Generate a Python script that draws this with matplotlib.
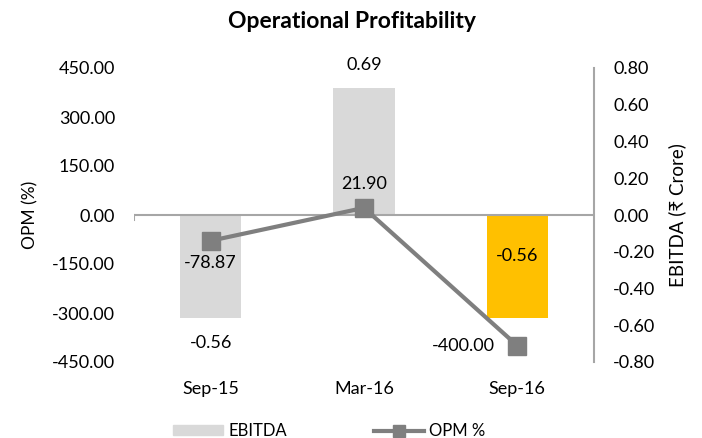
import matplotlib.pyplot as plt
import numpy as np
from matplotlib.patches import Patch
from matplotlib.lines import Line2D

plt.rcParams['font.family'] = ['Lato', 'DejaVu Sans']

periods = ['Sep-15', 'Mar-16', 'Sep-16']
ebitda = [-0.56, 0.69, -0.56]
opm = [-78.87, 21.90, -400.00]
bar_colors = ['#D9D9D9', '#D9D9D9', '#FFC000']

fig = plt.figure(figsize=(7.02, 4.38), dpi=100)
ax = fig.add_axes([134/702, 76/438, 460/702, 294/438])
ax2 = ax.twinx()

x = np.arange(len(periods))

# bars on the right (EBITDA) axis, line on the left (OPM) axis
ax2.bar(x, ebitda, width=0.4, color=bar_colors, zorder=1)
ax.set_zorder(ax2.get_zorder() + 1)
ax.patch.set_visible(False)
ax.plot(x, opm, color='#7F7F7F', lw=3, marker='s', markersize=13, zorder=3)

left_ticks = np.arange(-450, 451, 150)
right_ticks = np.round(np.arange(-0.8, 0.81, 0.2), 2)
ax.set_ylim(-450, 450)
ax.set_yticks(left_ticks)
ax.set_yticklabels(['{:.2f}'.format(v) for v in left_ticks])
ax2.set_ylim(-0.8, 0.8)
ax2.set_yticks(right_ticks)
ax2.set_yticklabels(['{:.2f}'.format(v + 0.0) for v in right_ticks])
ax.set_xlim(-0.5, 2.5)
ax.set_xticks(x)
ax.set_xticklabels(periods)

for a in (ax, ax2):
    for s in ['top', 'left', 'bottom', 'right']:
        a.spines[s].set_visible(False)
    a.tick_params(length=0, labelsize=13, colors='#000000')
ax.tick_params(axis='y', pad=13.7)
ax2.tick_params(axis='y', pad=13.7)
ax.tick_params(axis='x', pad=14)
ax2.spines['right'].set_visible(True)
ax2.spines['right'].set_color('#A6A6A6')
ax2.spines['right'].set_linewidth(1.5)

ax.axhline(0, color='#A6A6A6', lw=1.5, zorder=2)
ax.axvline(-0.5, ymin=0.483, ymax=0.5, color='#A6A6A6', lw=1.5)

ax.set_ylabel('OPM (%)', fontsize=12.5, labelpad=10)
ax2.set_ylabel('EBITDA (₹ Crore)', fontsize=13.5, labelpad=9)
fig.text(352/702, 1 - 22/438, 'Operational Profitability', fontsize=16.5,
         fontweight='bold', ha='center', va='center')

# data labels
ax2.annotate('{:.2f}'.format(ebitda[0]), (x[0], ebitda[0]), xytext=(0, -25),
             textcoords='offset pixels', ha='center', va='center', fontsize=13)
ax2.annotate('{:.2f}'.format(ebitda[1]), (x[1], ebitda[1]), xytext=(0, 23),
             textcoords='offset pixels', ha='center', va='center', fontsize=13)
ax2.annotate('{:.2f}'.format(ebitda[2]), (x[2], 0), xytext=(0, -41),
             textcoords='offset pixels', ha='center', va='center', fontsize=13)
ax.annotate('{:.2f}'.format(opm[0]), (x[0], opm[0]), xytext=(0, -22),
            textcoords='offset pixels', ha='center', va='center', fontsize=13)
ax.annotate('{:.2f}'.format(opm[1]), (x[1], opm[1]), xytext=(0, 24),
            textcoords='offset pixels', ha='center', va='center', fontsize=13)
ax.annotate('{:.2f}'.format(opm[2]), (x[2], opm[2]), xytext=(-22, 0),
            textcoords='offset pixels', ha='right', va='center', fontsize=13)

handles = [Patch(color='#D9D9D9'),
           Line2D([], [], color='#7F7F7F', lw=3, marker='s', markersize=9)]
fig.legend(handles, ['EBITDA', 'OPM %'], loc='center', bbox_to_anchor=(329/702, 1 - 431/438),
           ncol=2, frameon=False, fontsize=12, handlelength=3.0, handleheight=0.5,
           handletextpad=0.3, columnspacing=5.2, borderpad=0)

plt.savefig('out.png', dpi=100)
